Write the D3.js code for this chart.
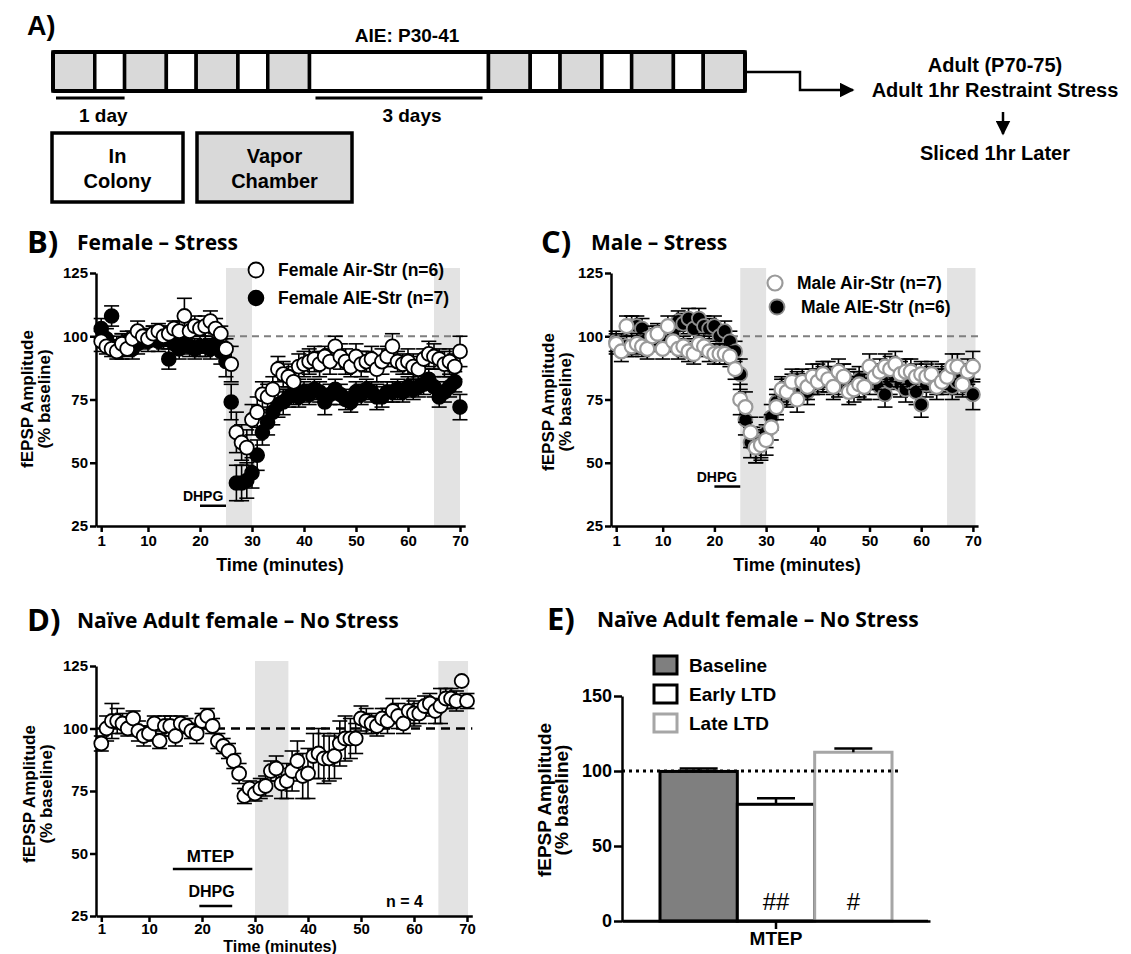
<!DOCTYPE html>
<html>
<head>
<meta charset="utf-8">
<script src="https://cdn.jsdelivr.net/npm/d3@7"></script>
<style>
body { margin: 0; background: #fff; }
svg text { font-family: Arial, "Liberation Sans", sans-serif; font-weight: bold; fill: #000; }
svg text.cal { font-family: "Open Sans", "Noto Sans", sans-serif; font-weight: 700; }
</style>
</head>
<body>
<svg id="fig" width="1131" height="954"></svg>
<script>
// ---- Data ----
// Panel A timeline (hours per block)
var aie_phase = ['Vapor', 'Colony', 'Vapor', 'Colony', 'Vapor', 'Colony', 'Vapor', 'Colony',
    'Vapor', 'Colony', 'Vapor', 'Colony', 'Vapor', 'Colony', 'Vapor'];
var aie_hours = [14, 10, 14, 10, 14, 10, 14, 60, 14, 10, 14, 10, 14, 10, 14];
var span_labels = ['1 day', '3 days'];
var span_start = [1, 88];
var span_end = [24, 144];

// Time course panels
var minutes = d3.range(1, 71);
var time_ticks = [1, 10, 20, 30, 40, 50, 60, 70];
var amp_ticks = [25, 50, 75, 100, 125];

var fem_air_mean = [98, 96, 95, 94, 97, 95, 99, 102, 100, 99,
    101, 102, 100, 101, 103, 102, 108, 102, 104, 103,
    104, 106, 103, 101, 95, 89, 62, 58, 56, 67,
    70, 77, 76, 79, 87, 85, 84, 82, 88, 89,
    90, 91, 89, 92, 90, 96, 92, 90, 88, 92,
    89, 90, 91, 87, 90, 92, 96, 90, 89, 90,
    88, 87, 91, 93, 92, 91, 89, 90, 88, 94];
var fem_air_sem = [4, 3, 3, 3, 4, 3, 3, 4, 3, 3,
    3, 3, 4, 3, 3, 4, 7, 4, 4, 3,
    4, 4, 4, 3, 4, 7, 8, 7, 7, 6,
    6, 5, 5, 5, 5, 5, 5, 6, 5, 5,
    5, 5, 5, 4, 5, 4, 5, 5, 4, 5,
    5, 4, 5, 5, 5, 4, 5, 4, 4, 5,
    5, 5, 4, 5, 5, 4, 5, 5, 5, 6];
var fem_aie_mean = [103, 99, 108, 96, 96, 98, 95, 97, 99, 98,
    100, 98, 99, 91, 97, 95, 97, 96, 95, 96,
    96, 95, 97, 94, 90, 74, 42, 42, 43, 46,
    53, 62, 66, 70, 73, 74, 76, 77, 76, 78,
    77, 79, 78, 74, 77, 79, 77, 75, 74, 78,
    77, 79, 78, 76, 76, 78, 78, 79, 78, 80,
    79, 80, 81, 83, 80, 76, 78, 80, 82, 72];
var fem_aie_sem = [4, 4, 4, 4, 5, 4, 4, 4, 4, 4,
    4, 4, 4, 4, 4, 4, 4, 4, 4, 4,
    4, 4, 4, 5, 6, 7, 7, 7, 7, 6,
    6, 5, 5, 5, 5, 5, 4, 4, 4, 4,
    4, 4, 4, 5, 4, 4, 4, 4, 4, 4,
    4, 4, 4, 5, 4, 4, 4, 4, 4, 4,
    4, 4, 4, 4, 4, 4, 4, 4, 4, 5];

var male_air_mean = [97, 94, 104, 96, 97, 96, 95, 100, 101, 95,
    104, 98, 95, 96, 94, 93, 97, 96, 94, 93,
    93, 93, 92, 87, 75, 72, 62, 56, 57, 59,
    64, 72, 79, 78, 82, 75, 82, 80, 84, 82,
    85, 83, 80, 86, 84, 78, 79, 81, 80, 88,
    84, 86, 88, 87, 89, 85, 86, 86, 84, 85,
    84, 85, 80, 82, 84, 88, 88, 81, 86, 88];
var male_air_sem = [4, 4, 4, 4, 4, 4, 4, 4, 4, 4,
    4, 4, 4, 4, 4, 4, 4, 4, 4, 4,
    4, 4, 4, 4, 6, 6, 6, 6, 6, 6,
    5, 5, 5, 5, 5, 5, 5, 5, 5, 5,
    5, 5, 5, 5, 5, 5, 5, 5, 5, 5,
    5, 5, 5, 5, 5, 5, 5, 5, 5, 5,
    5, 5, 5, 5, 5, 5, 5, 5, 5, 6];
var male_aie_mean = [98, 97, 96, 104, 104, 103, 99, 98, 100, 99,
    98, 101, 106, 105, 107, 103, 107, 104, 103, 104,
    100, 102, 98, 94, 85, 67, 58, 56, 58, 62,
    68, 74, 78, 77, 80, 81, 80, 78, 82, 84,
    83, 85, 82, 81, 84, 82, 81, 83, 80, 82,
    84, 80, 77, 82, 84, 81, 79, 82, 78, 73,
    81, 83, 82, 84, 83, 80, 82, 84, 83, 77];
var male_aie_sem = [4, 4, 4, 4, 4, 4, 4, 4, 4, 4,
    4, 4, 4, 4, 4, 4, 4, 4, 4, 4,
    4, 4, 4, 4, 6, 6, 6, 6, 6, 6,
    5, 5, 5, 5, 5, 5, 5, 5, 5, 5,
    5, 5, 5, 5, 5, 5, 5, 5, 5, 5,
    5, 5, 5, 5, 5, 5, 5, 5, 5, 5,
    5, 5, 5, 5, 5, 5, 5, 5, 5, 6];

var naive_mean = [94, 100, 103, 103, 102, 100, 104, 99, 97, 98,
    102, 95, 101, 101, 97, 102, 101, 99, 98, 103,
    105, 101, 95, 93, 91, 87, 82, 73, 76, 74,
    76, 77, 83, 84, 78, 79, 83, 87, 81, 82,
    89, 90, 88, 88, 89, 94, 96, 96, 96, 104,
    103, 102, 101, 104, 103, 107, 105, 102, 107, 106,
    106, 109, 110, 107, 109, 112, 112, 111, 119, 111];
var naive_sem = [3, 5, 7, 5, 4, 3, 3, 4, 4, 3,
    3, 3, 4, 4, 4, 3, 3, 3, 4, 3,
    3, 3, 3, 3, 3, 3, 4, 3, 3, 3,
    4, 4, 4, 5, 6, 7, 8, 8, 9, 10,
    9, 10, 10, 9, 9, 9, 9, 8, 6, 5,
    5, 4, 4, 4, 5, 5, 5, 4, 5, 5,
    4, 4, 4, 5, 7, 4, 4, 4, 0, 3];

// Panel E bars
var bar_groups = ['Baseline', 'Early LTD', 'Late LTD'];
var bar_mean = [99.7, 77.8, 112.5];
var bar_sem = [2, 4, 2.5];
var bar_sig = ['', '##', '#'];
var bar_ticks = [0, 50, 100, 150];

var svg = d3.select("#fig");

// ---- Panel A: AIE timeline ----
svg.append("text").attr("x", 27).attr("y", 35).style("font-size", "27px").text("A)");

var tl_x = d3.scaleLinear().domain([0, d3.sum(aie_hours)]).range([53, 745]);
var tl_top = 52, tl_h = 39;
var cum = 0;
aie_hours.forEach(function (h, i) {
    svg.append("rect")
            .attr("x", tl_x(cum)).attr("y", tl_top)
            .attr("width", tl_x(cum + h) - tl_x(cum)).attr("height", tl_h)
            .attr("fill", aie_phase[i] === 'Vapor' ? "#d9d9d9" : "#fff")
            .attr("stroke", "#000").attr("stroke-width", 3.5);
    cum += h;
});
svg.append("rect").attr("x", tl_x(0)).attr("y", tl_top)
        .attr("width", tl_x(cum) - tl_x(0)).attr("height", tl_h)
        .attr("fill", "none").attr("stroke", "#000").attr("stroke-width", 4).attr("rx", 2);

svg.append("text").attr("x", 407).attr("y", 42).attr("text-anchor", "middle")
        .style("font-size", "19px").text("AIE: P30-41");

// day brackets under the strip
span_labels.forEach(function (lab, i) {
    var x0 = tl_x(span_start[i]), x1 = tl_x(span_end[i]);
    svg.append("line").attr("x1", x0).attr("x2", x1).attr("y1", 98).attr("y2", 98)
            .attr("stroke", "#000").attr("stroke-width", 3);
    svg.append("text").attr("x", (x0 + x1) / 2 + 13).attr("y", 122)
            .attr("text-anchor", "middle").style("font-size", "19px").text(lab);
});

// key boxes
var key_boxes = [
    {x: 52, w: 131, fill: "#fff", lines: ["In", "Colony"]},
    {x: 197, w: 155, fill: "#d9d9d9", lines: ["Vapor", "Chamber"]}
];
key_boxes.forEach(function (b) {
    svg.append("rect").attr("x", b.x).attr("y", 133).attr("width", b.w).attr("height", 69)
            .attr("fill", b.fill).attr("stroke", "#000").attr("stroke-width", 3.5);
    b.lines.forEach(function (t, j) {
        svg.append("text").attr("x", b.x + b.w / 2).attr("y", 163 + j * 25)
                .attr("text-anchor", "middle").style("font-size", "20px").text(t);
    });
});

// arrow to adult stage
svg.append("defs").append("marker").attr("id", "ahead")
        .attr("viewBox", "0 0 10 10").attr("refX", 9).attr("refY", 5)
        .attr("markerWidth", 6).attr("markerHeight", 6).attr("orient", "auto")
        .attr("markerUnits", "strokeWidth")
        .append("path").attr("d", "M0,0L10,5L0,10Z").attr("fill", "#000");
svg.append("path").attr("d", "M747,72H800V90H853")
        .attr("fill", "none").attr("stroke", "#000").attr("stroke-width", 2.5)
        .attr("marker-end", "url(#ahead)");
svg.append("text").attr("x", 995).attr("y", 72).attr("text-anchor", "middle")
        .style("font-size", "20px").text("Adult (P70-75)");
svg.append("text").attr("x", 995).attr("y", 97).attr("text-anchor", "middle")
        .style("font-size", "20px").text("Adult 1hr Restraint Stress");
svg.append("line").attr("x1", 1003).attr("x2", 1003).attr("y1", 112).attr("y2", 134)
        .attr("stroke", "#000").attr("stroke-width", 2.5).attr("marker-end", "url(#ahead)");
svg.append("text").attr("x", 995).attr("y", 160).attr("text-anchor", "middle")
        .style("font-size", "20px").text("Sliced 1hr Later");

// ---- helpers ----
function panel_title(x, y, letter, title) {
    svg.append("text").attr("class", "cal").attr("x", x).attr("y", y + 3)
            .style("font-size", "31px").text(letter);
    svg.append("text").attr("class", "cal").attr("x", x + 50).attr("y", y)
            .style("font-size", "21px").text(title);
}

function y_title(x, y, size) {
    svg.append("text").attr("transform", "translate(" + x + "," + y + ") rotate(-90)")
            .attr("text-anchor", "middle").style("font-size", size + "px").text("fEPSP Amplitude");
    svg.append("text").attr("transform", "translate(" + (x + 17) + "," + y + ") rotate(-90)")
            .attr("text-anchor", "middle").style("font-size", size + "px").text("(% baseline)");
}

function style_axis(g, fsize) {
    g.select(".domain").attr("stroke", "#000").attr("stroke-width", 2.5);
    g.selectAll(".tick line").attr("stroke", "#000").attr("stroke-width", 2.5);
    g.selectAll(".tick text").style("font-size", fsize + "px")
            .style("font-family", "Arial, 'Liberation Sans', sans-serif").style("font-weight", "bold");
}

function draw_timecourse(p) {
    var xs = d3.scaleLinear().domain([0, 71]).range([p.x0, p.x1]);
    var ys = d3.scaleLinear().domain([25, 125]).range([p.y0, p.y1]);

    // shaded analysis windows
    p.bands.forEach(function (b) {
        svg.append("rect").attr("x", xs(b[0])).attr("y", p.y1 - 5)
                .attr("width", xs(b[1]) - xs(b[0])).attr("height", p.y0 - p.y1 + 5)
                .attr("fill", "#e3e3e3");
    });

    // 100% baseline
    svg.append("line").attr("x1", p.x0).attr("x2", p.x1)
            .attr("y1", ys(100)).attr("y2", ys(100))
            .attr("stroke", p.dash_color).attr("stroke-width", p.dash_w)
            .attr("stroke-dasharray", p.dash);

    // drug application bars
    p.drugs.forEach(function (d) {
        var yl = ys(d.level);
        svg.append("line").attr("x1", xs(d.t0)).attr("x2", xs(d.t1))
                .attr("y1", yl).attr("y2", yl).attr("stroke", "#000").attr("stroke-width", 2.5);
        svg.append("text").attr("x", xs(d.tx)).attr("y", yl - d.gap)
                .attr("text-anchor", "middle").style("font-size", d.size + "px").text(d.name);
    });

    // axes
    var gx = svg.append("g").attr("transform", "translate(0," + p.y0 + ")")
            .call(d3.axisBottom(xs).tickValues(time_ticks).tickSize(6).tickSizeOuter(0).tickPadding(p.xpad));
    style_axis(gx, p.tick_font);
    var gy = svg.append("g").attr("transform", "translate(" + p.x0 + ",0)")
            .call(d3.axisLeft(ys).tickValues(amp_ticks).tickSize(6).tickSizeOuter(0).tickPadding(2));
    style_axis(gy, p.tick_font);

    // series: error bars then symbols
    p.series.forEach(function (s) {
        var eg = svg.append("g").attr("stroke", "#000").attr("stroke-width", 1.6);
        minutes.forEach(function (t, i) {
            var e = s.sem[i];
            if (e <= 0) return;
            var cx = xs(t), lo = ys(s.mean[i] - e), hi = ys(s.mean[i] + e);
            eg.append("line").attr("x1", cx).attr("x2", cx).attr("y1", lo).attr("y2", hi);
            eg.append("line").attr("x1", cx - 7.5).attr("x2", cx + 7.5).attr("y1", hi).attr("y2", hi);
            eg.append("line").attr("x1", cx - 7.5).attr("x2", cx + 7.5).attr("y1", lo).attr("y2", lo);
        });
        svg.append("g").selectAll("circle").data(s.mean).join("circle")
                .attr("cx", function (d, i) { return xs(minutes[i]); })
                .attr("cy", function (d) { return ys(d); })
                .attr("r", 7)
                .attr("fill", s.fill).attr("stroke", s.stroke).attr("stroke-width", s.sw);
    });

    // legend
    p.legend.forEach(function (l, i) {
        svg.append("circle").attr("cx", l.x).attr("cy", l.y).attr("r", 7.5)
                .attr("fill", l.fill).attr("stroke", l.stroke).attr("stroke-width", l.sw);
        svg.append("text").attr("x", l.tx).attr("y", l.y + 6)
                .style("font-size", "17.5px").text(l.label);
    });

    svg.append("text").attr("x", p.xlab_x).attr("y", p.xlab_y).attr("text-anchor", "middle")
            .style("font-size", p.xlab_size + "px").text("Time (minutes)");
}

// ---- Panel B ----
panel_title(27, 250, "B)", "Female – Stress");
y_title(33, 399, 17);
draw_timecourse({
    x0: 96, x1: 96 + 71 * 5.2, y0: 526, y1: 273,
    bands: [[25, 30], [65, 70]],
    dash_color: "#7f7f7f", dash_w: 2, dash: "7,5",
    drugs: [{name: "DHPG", t0: 20, t1: 25, level: 33, tx: 20.6, gap: 5, size: 14}],
    tick_font: 15, xpad: 3,
    series: [
        {mean: fem_aie_mean, sem: fem_aie_sem, fill: "#000", stroke: "#000", sw: 1.6},
        {mean: fem_air_mean, sem: fem_air_sem, fill: "#fff", stroke: "#000", sw: 1.8}
    ],
    legend: [
        {x: 256, y: 270, tx: 278, fill: "#fff", stroke: "#000", sw: 1.8, label: "Female Air-Str (n=6)"},
        {x: 256, y: 298, tx: 278, fill: "#000", stroke: "#000", sw: 1.6, label: "Female AIE-Str (n=7)"}
    ],
    xlab_x: 280, xlab_y: 571, xlab_size: 18
});

// ---- Panel C ----
panel_title(541, 250, "C)", "Male – Stress");
y_title(554, 402, 17);
draw_timecourse({
    x0: 611, x1: 611 + 71 * 5.17, y0: 526, y1: 273,
    bands: [[25, 30], [65, 70.5]],
    dash_color: "#7f7f7f", dash_w: 2, dash: "7,5",
    drugs: [{name: "DHPG", t0: 20, t1: 25, level: 40.6, tx: 20.5, gap: 5, size: 14}],
    tick_font: 15, xpad: 3,
    series: [
        {mean: male_aie_mean, sem: male_aie_sem, fill: "#000", stroke: "#8c8c8c", sw: 1.8},
        {mean: male_air_mean, sem: male_air_sem, fill: "#fff", stroke: "#9a9a9a", sw: 2.2}
    ],
    legend: [
        {x: 775, y: 283, tx: 797, fill: "#fff", stroke: "#9a9a9a", sw: 2.2, label: "Male Air-Str (n=7)"},
        {x: 777, y: 307, tx: 801, fill: "#000", stroke: "#8c8c8c", sw: 1.8, label: "Male AIE-Str (n=6)"}
    ],
    xlab_x: 797, xlab_y: 571, xlab_size: 18
});

// ---- Panel D ----
panel_title(27, 628, "D)", "Naïve Adult female – No Stress");
y_title(35, 794, 17);
draw_timecourse({
    x0: 96, x1: 96 + 71 * 5.3, y0: 916, y1: 666,
    bands: [[30, 36.3], [64.6, 70.2]],
    dash_color: "#000", dash_w: 2.5, dash: "9,6",
    drugs: [
        {name: "MTEP", t0: 14.5, t1: 29.5, level: 43.8, tx: 21.6, gap: 7, size: 17},
        {name: "DHPG", t0: 19.5, t1: 25.7, level: 29, tx: 21.8, gap: 9, size: 16}
    ],
    tick_font: 15, xpad: 1,
    series: [
        {mean: naive_mean, sem: naive_sem, fill: "#fff", stroke: "#000", sw: 1.8}
    ],
    legend: [],
    xlab_x: 280, xlab_y: 952, xlab_size: 16
});
svg.append("text").attr("x", 423).attr("y", 907).attr("text-anchor", "end")
        .style("font-size", "16px").text("n = 4");

// ---- Panel E ----
panel_title(547, 627, "E)", "Naïve Adult female – No Stress");
y_title(551, 800, 19);

var e_x0 = 622, e_x1 = 928;
var ey = d3.scaleLinear().domain([0, 150]).range([921, 696]);
var ex = d3.scaleBand().domain(bar_groups).range([660, 892]).padding(0);
var bar_fill = ["#7f7f7f", "#fff", "#fff"];
var bar_line = ["#000", "#000", "#a6a6a6"];

svg.append("g").selectAll("rect").data(bar_mean).join("rect")
        .attr("x", function (d, i) { return ex(bar_groups[i]); })
        .attr("y", function (d) { return ey(d); })
        .attr("width", ex.bandwidth())
        .attr("height", function (d) { return ey(0) - ey(d); })
        .attr("fill", function (d, i) { return bar_fill[i]; })
        .attr("stroke", function (d, i) { return bar_line[i]; })
        .attr("stroke-width", 3);

// upward error bars
bar_mean.forEach(function (m, i) {
    var cx = ex(bar_groups[i]) + ex.bandwidth() / 2;
    svg.append("line").attr("x1", cx).attr("x2", cx).attr("y1", ey(m)).attr("y2", ey(m + bar_sem[i]))
            .attr("stroke", "#000").attr("stroke-width", 2.5);
    svg.append("line").attr("x1", cx - 19).attr("x2", cx + 19)
            .attr("y1", ey(m + bar_sem[i])).attr("y2", ey(m + bar_sem[i]))
            .attr("stroke", "#000").attr("stroke-width", 2.5);
    if (bar_sig[i]) {
        svg.append("text").attr("x", cx).attr("y", 910).attr("text-anchor", "middle")
                .style("font-weight", "normal").style("font-size", "24px").text(bar_sig[i]);
    }
});

svg.append("line").attr("x1", e_x0).attr("x2", 898).attr("y1", ey(100)).attr("y2", ey(100))
        .attr("stroke", "#000").attr("stroke-width", 3).attr("stroke-dasharray", "3,4");

var egy = svg.append("g").attr("transform", "translate(" + e_x0 + ",0)")
        .call(d3.axisLeft(ey).tickValues(bar_ticks).tickSize(8).tickSizeOuter(0).tickPadding(2));
style_axis(egy, 18);
var egx_scale = d3.scaleBand().domain(["MTEP"]).range([e_x0, e_x0 + 2 * (776 - e_x0)]);
var egx = svg.append("g").attr("transform", "translate(0,921)")
        .call(d3.axisBottom(egx_scale).tickSize(8).tickSizeOuter(0).tickPadding(3));
style_axis(egx, 19);
svg.append("line").attr("x1", e_x0).attr("x2", e_x1).attr("y1", 921).attr("y2", 921)
        .attr("stroke", "#000").attr("stroke-width", 2.5);

// legend for bars
bar_groups.forEach(function (g, i) {
    var ly = 656 + i * 29;
    svg.append("rect").attr("x", 654).attr("y", ly).attr("width", 23).attr("height", 18)
            .attr("fill", bar_fill[i]).attr("stroke", bar_line[i]).attr("stroke-width", 3);
    svg.append("text").attr("x", 689).attr("y", ly + 16).style("font-size", "19px").text(g);
});
</script>
</body>
</html>
